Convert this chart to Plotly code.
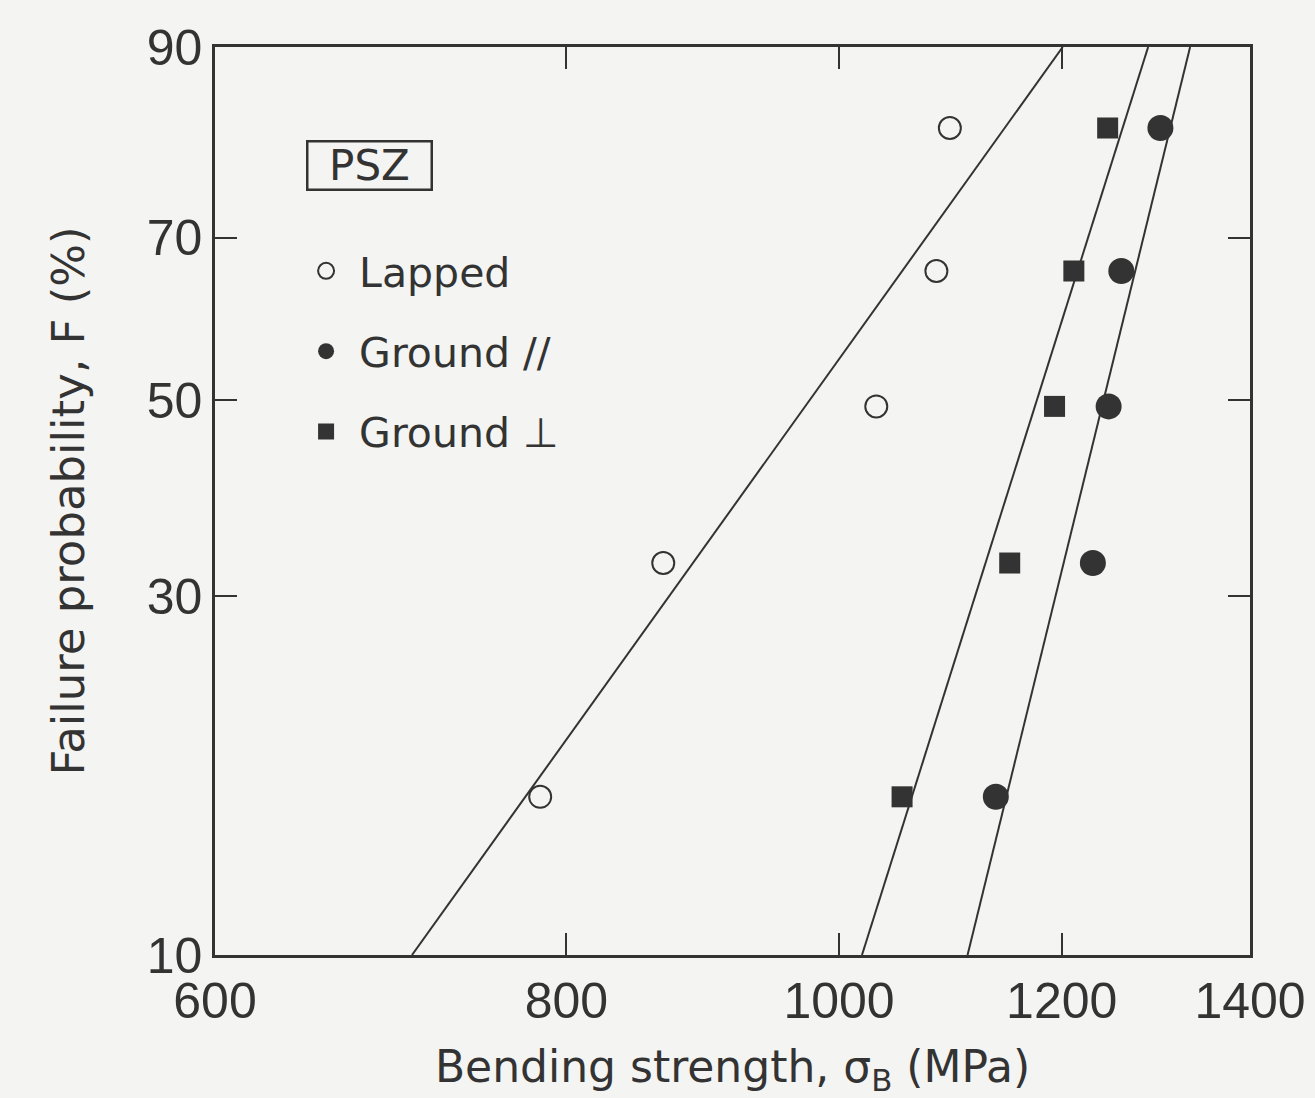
import numpy as np
import plotly.graph_objects as go

# Failure probability (%) of the ranked specimens, n=5
F_pct = [16.5, 32.9, 49.3, 65.9, 82.6]

lapped = [783, 866, 1031, 1083, 1095]
ground_par = [1137, 1231, 1247, 1260, 1301]
ground_perp = [1053, 1150, 1193, 1212, 1246]

# fitted Weibull lines: strength at F = 10 % and 90 %
fit_F = [10, 90]
fit_lapped = [705, 1201]
fit_par = [1111, 1333]
fit_perp = [1019, 1288]

y_ticks = [10, 30, 50, 70, 90]
x_ticks = [600, 800, 1000, 1200, 1400]


def W(p):
    p = np.asarray(p, dtype=float) / 100.0
    return np.log(-np.log(1.0 - p))


ink = "#333333"
NB = "\u00a0"
fig = go.Figure()

for xs in (fit_lapped, fit_par, fit_perp):
    fig.add_trace(go.Scatter(x=xs, y=W(fit_F), mode="lines",
                             line=dict(color=ink, width=2), showlegend=False,
                             hoverinfo="skip"))

fig.add_trace(go.Scatter(x=lapped, y=W(F_pct), mode="markers", name=NB + "Lapped",
                         legendgroup="a",
                         marker=dict(symbol="circle-open", size=22, color=ink,
                                     line=dict(width=2, color=ink))))
fig.add_trace(go.Scatter(x=ground_par, y=W(F_pct), mode="markers", name=NB + "Ground //",
                         legendgroup="b",
                         marker=dict(symbol="circle", size=26, color=ink)))
fig.add_trace(go.Scatter(x=ground_perp, y=W(F_pct), mode="markers", name=NB + "Ground ⊥",
                         legendgroup="c",
                         marker=dict(symbol="square", size=21, color=ink)))

axis_common = dict(showline=True, linecolor=ink, linewidth=2.5, mirror="ticks",
                   ticks="inside", ticklen=22, tickwidth=2, tickcolor=ink,
                   showgrid=False, zeroline=False, automargin=False,
                   tickfont=dict(family="Liberation Sans, Arial", size=50, color=ink))

fig.update_xaxes(type="log", range=[np.log10(600), np.log10(1400)],
                 tickvals=x_ticks, ticktext=[str(v) for v in x_ticks],
                 title=dict(text="Bending strength, σ<sub>B</sub> (MPa)",
                            font=dict(family="DejaVu Sans", size=44, color=ink),
                            standoff=30),
                 **axis_common)
fig.update_yaxes(range=[float(W(10)), float(W(90))],
                 tickvals=W(y_ticks).tolist(), ticktext=[str(v) for v in y_ticks],
                 title=dict(text="Failure probability, F (%)",
                            font=dict(family="DejaVu Sans", size=45, color=ink),
                            standoff=48),
                 **axis_common)

fig.add_annotation(xref="paper", yref="paper", x=0.149, y=0.869,
                   xanchor="center", yanchor="middle",
                   text="PSZ", showarrow=False, width=122, height=46,
                   font=dict(family="DejaVu Sans", size=42, color=ink),
                   bordercolor=ink, borderwidth=2.5, borderpad=0)

fig.update_layout(
    width=1315, height=1098,
    margin=dict(l=215, r=65, t=47, b=143),
    paper_bgcolor="#f4f4f2", plot_bgcolor="#f4f4f2",
    showlegend=True,
    legend=dict(x=0.088, y=0.79, xanchor="left", yanchor="top",
                bgcolor="rgba(0,0,0,0)", tracegroupgap=24,
                font=dict(family="DejaVu Sans", size=41, color=ink)),
)

fig.write_html("out.html")
